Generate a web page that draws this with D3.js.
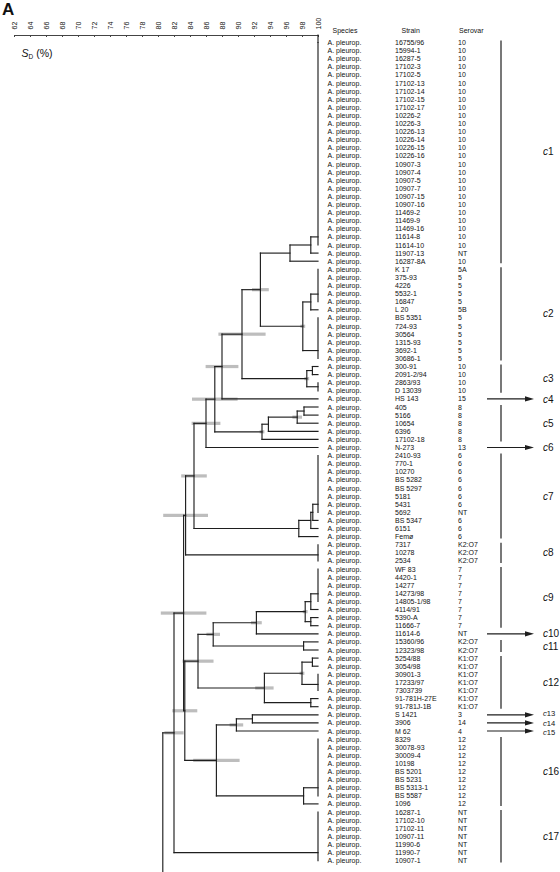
<!DOCTYPE html>
<html><head><meta charset="utf-8">
<script src="https://cdn.jsdelivr.net/npm/d3@7"></script>
<style>
body{margin:0;background:#fff}
svg{display:block}
text{font-family:"Liberation Sans",Arial,Helvetica,sans-serif;fill:#111}
</style>
</head><body>
<svg id="chart" width="560" height="872"></svg>
<script>
// ---------- data ----------
const strains = ["16755/96","15994-1","16287-5","17102-3","17102-5","17102-13","17102-14","17102-15","17102-17","10226-2","10226-3","10226-13","10226-14","10226-15","10226-16","10907-3","10907-4","10907-5","10907-7","10907-15","10907-16","11469-2","11469-9","11469-16","11614-8","11614-10","11907-13","16287-8A",
"K 17","375-93","4226","5532-1","16847","L 20","BS 5351","724-93","30564","1315-93","3692-1","30686-1",
"300-91","2091-2/94","2863/93","D 13039",
"HS 143",
"405","5166","10654","6396","17102-18",
"N-273",
"2410-93","770-1","10270","BS 5282","BS 5297","5181","5431","5692","BS 5347","6151","Femø",
"7317","10278","2534",
"WF 83","4420-1","14277","14273/98","14805-1/98","4114/91","5390-A","11666-7",
"11614-6",
"15360/96","12323/98",
"5254/88","3054/98","30901-3","17233/97","7303739","91-781H-27E","91-781J-1B",
"S 1421","3906","M 62",
"8329","30078-93","30009-4","10198","BS 5201","BS 5231","BS 5313-1","BS 5587","1096",
"16287-1","17102-10","17102-11","10907-11","11990-6","11990-7","10907-1"];

const serovars = ["10","10","10","10","10","10","10","10","10","10","10","10","10","10","10","10","10","10","10","10","10","10","10","10","10","10","NT","10",
"5A","5","5","5","5","5B","5","5","5","5","5","5",
"10","10","10","10",
"15",
"8","8","8","8","8",
"13",
"6","6","6","6","6","6","6","NT","6","6","6",
"K2:O7","K2:O7","K2:O7",
"7","7","7","7","7","7","7","7",
"NT",
"K2:O7","K2:O7",
"K1:O7","K1:O7","K1:O7","K1:O7","K1:O7","K1:O7","K1:O7",
"3","14","4",
"12","12","12","12","12","12","12","12","12",
"NT","NT","NT","NT","NT","NT","NT"];

const species = strains.map(() => "A. pleurop.");

const axisTicks = [62,64,66,68,70,72,74,76,78,80,82,84,86,88,90,92,94,96,98,100];

// groups of strains that are identical (100 % similarity): [first row, last row]
const identicalGroups = {
  g0:[0,25], g1:[28,32], g2:[34,39], g3:[42,43], g4:[51,58],
  g5:[62,64], g6:[65,69], g7:[78,80], g8:[86,93], g9:[95,101]
};

// merges: [node id, child A, child B, similarity SD (%), standard deviation]
const merges = [
 ["A1","g0",26,99.1,0],
 ["A2","A1",27,96.5,0],
 ["C2a","g1",33,99.1,0],
 ["C2","C2a","g2",98.1,0.3],
 ["B","A2","C2",92.8,1.05],
 ["c3a",40,41,99.3,0],
 ["c3","c3a","g3",98.6,0.3],
 ["D","B","c3",90.5,2.95],
 ["E","D",44,88.0,2.05],
 ["n5a",45,46,98.25,0],
 ["n5b","n5a",47,97.4,0.6],
 ["n5c","n5b",48,93.8,0],
 ["n5d","n5c",49,93.0,0.3],
 ["F","E","n5d",87.1,2.85],
 ["G","F",50,86.0,1.8],
 ["X1","g4",59,99.35,0],
 ["X2","X1",60,99.1,0],
 ["Y","X2",61,97.6,0],
 ["H","G","Y",84.5,1.6],
 ["K","H","g5",83.45,2.8],
 ["q1","g6",70,99.1,0],
 ["q2",71,72,99.1,0],
 ["Q","q1","q2",98.4,0.3],
 ["P","Q",73,92.3,0.67],
 ["c11",74,75,98.2,0],
 ["O","P","c11",86.9,0.85],
 ["s1",76,77,99.3,0],
 ["S","s1","g7",98.0,0.3],
 ["r2",81,82,99.1,0],
 ["R","S","r2",93.3,1.15],
 ["N","O","R",85.0,1.94],
 ["V",83,84,91.8,0],
 ["U","V",85,89.8,0.85],
 ["W","g8",94,98.2,0],
 ["T","U","W",87.3,2.9],
 ["M","N","T",83.35,1.56],
 ["J","K","M",83.2,2.85],
 ["I","J","g9",82.0,1.2]
];
const rootChild = "I";
const rootSimilarity = 80.6;

const clusterNames = ["1","2","3","4","5","6","7","8","9","10","11","12","13","14","15","16","17"];
const clusterFirst = [0,28,40,44,45,50,51,62,65,73,74,76,83,84,85,86,95];
const clusterLast  = [27,39,43,44,49,50,61,64,72,73,75,82,83,84,85,94,101];

// ---------- layout ----------
const svg = d3.select("#chart");
const W = 560, Hh = 872;
const x = d3.scaleLinear().domain([62,100]).range([14,318]);
const y = d3.scalePoint().domain(d3.range(strains.length)).range([42.5, 860.6]);
const axisY = 35;
const lineCol = "#1e1e1e";

// title "A"
svg.append("text").attr("x",2).attr("y",15).attr("font-size",17).attr("font-weight","bold").text("A");

// axis
const axis = d3.axisTop(x).tickValues(axisTicks).tickSizeInner(-2).tickSizeOuter(0).tickFormat(d3.format("d"));
const ag = svg.append("g").attr("transform",`translate(0,${axisY})`).call(axis);
ag.select(".domain").attr("stroke","#444").attr("stroke-width",1.2);
ag.selectAll(".tick line").attr("stroke","#444");
ag.selectAll(".tick text")
  .attr("font-family",'"Liberation Sans",Arial,sans-serif')
  .attr("font-size",7).attr("fill","#111")
  .attr("text-anchor","start")
  .attr("y",0).attr("dy","0.35em")
  .attr("transform","translate(0,-5.5) rotate(-90)");

// S_D (%) label
const sl = svg.append("text").attr("x",21.5).attr("y",57).attr("font-size",10.5);
sl.append("tspan").attr("font-style","italic").text("S");
sl.append("tspan").attr("font-size",6.5).attr("dy",2).text("D");
sl.append("tspan").attr("dy",-2).text("\u00a0(%)");

// ---------- dendrogram ----------
const pos = {};
function combY(a,b){ let yy=y(a); for(let i=a+1;i<=b;i++) yy=(yy+y(i))/2; return yy; }
const segs = [];
Object.entries(identicalGroups).forEach(([id,[a,b]])=>{
  pos[id] = {x:x(100), y:combY(a,b)};
  segs.push({x1:x(100),y1:y(a),x2:x(100),y2:y(b)});
});
function P(ref){ return typeof ref === "number" ? {x:x(100), y:y(ref)} : pos[ref]; }
const bars = [];
merges.forEach(([id,a,b,sim,sd])=>{
  const pa=P(a), pb=P(b), nx=x(sim), ny=(pa.y+pb.y)/2;
  pos[id]={x:nx,y:ny};
  segs.push({x1:nx,y1:pa.y,x2:nx,y2:pb.y});
  segs.push({x1:nx,y1:pa.y,x2:pa.x,y2:pa.y});
  segs.push({x1:nx,y1:pb.y,x2:pb.x,y2:pb.y});
  if(sd>0) bars.push({x1:x(sim-sd), x2:x(sim+sd), y:ny});
});
// root (its other branch continues below the panel)
const rc = pos[rootChild], rx = x(rootSimilarity);
segs.push({x1:rx,y1:rc.y,x2:rc.x,y2:rc.y});
segs.push({x1:rx,y1:rc.y,x2:rx,y2:Hh});
// 100 % reference line from axis to first strain
segs.push({x1:x(100),y1:axisY,x2:x(100),y2:y(0)});

svg.append("g").selectAll("rect").data(bars).join("rect")
  .attr("x",d=>d.x1).attr("width",d=>d.x2-d.x1)
  .attr("y",d=>d.y-1.6).attr("height",3.2).attr("fill","#bdbdbd");

svg.append("g").selectAll("line").data(segs).join("line")
  .attr("x1",d=>d.x1).attr("y1",d=>d.y1).attr("x2",d=>d.x2).attr("y2",d=>d.y2)
  .attr("stroke",lineCol).attr("stroke-width",1.15).attr("stroke-linecap","square");

// ---------- labels ----------
const colX = {sp:327.5, st:395, se:458};
const hdr = svg.append("g").attr("font-size",7);
hdr.append("text").attr("x",332.5).attr("y",33).text("Species");
hdr.append("text").attr("x",401.5).attr("y",33).text("Strain");
hdr.append("text").attr("x",459).attr("y",33).text("Serovar");

const rows = svg.append("g").attr("font-size",7).selectAll("g").data(strains).join("g")
  .attr("transform",(d,i)=>`translate(0,${y(i)})`);
rows.append("text").attr("x",colX.sp).attr("dy","0.36em").text((d,i)=>species[i]);
rows.append("text").attr("x",colX.st).attr("dy","0.36em").text(d=>d);
rows.append("text").attr("x",colX.se).attr("dy","0.36em").text((d,i)=>serovars[i]);

// ---------- clusters ----------
const cg = svg.append("g");
clusterNames.forEach((nm,k)=>{
  const a=clusterFirst[k], b=clusterLast[k];
  let ly, fs=10;
  if(a===b){
    const yy=y(a);
    cg.append("line").attr("x1",487).attr("x2",527).attr("y1",yy).attr("y2",yy).attr("stroke",lineCol).attr("stroke-width",1.2);
    cg.append("path").attr("d",`M525,${yy-2.6}L534,${yy}L525,${yy+2.6}Z`).attr("fill",lineCol);
    ly=yy;
    // tightly stacked single-strain clusters (c13–c15)
    const prevSingle = k>0 && clusterFirst[k-1]===clusterLast[k-1] && clusterFirst[k-1]===a-1;
    const nextSingle = k<clusterNames.length-1 && clusterFirst[k+1]===clusterLast[k+1] && clusterFirst[k+1]===a+1;
    if(prevSingle||nextSingle){
      fs=7.6;
      if(!prevSingle) ly-=1.2;
      if(!nextSingle) ly+=1.2;
    }
  } else {
    cg.append("line").attr("x1",501).attr("x2",501).attr("y1",y(a)-2).attr("y2",y(b)+2).attr("stroke",lineCol).attr("stroke-width",1.2);
    ly=(y(a)+y(b))/2;
  }
  const t=cg.append("text").attr("x",543).attr("y",ly).attr("dy","0.36em").attr("font-size",fs);
  t.append("tspan").attr("font-style","italic").text("c");
  t.append("tspan").text(nm);
});
</script>
</body></html>
